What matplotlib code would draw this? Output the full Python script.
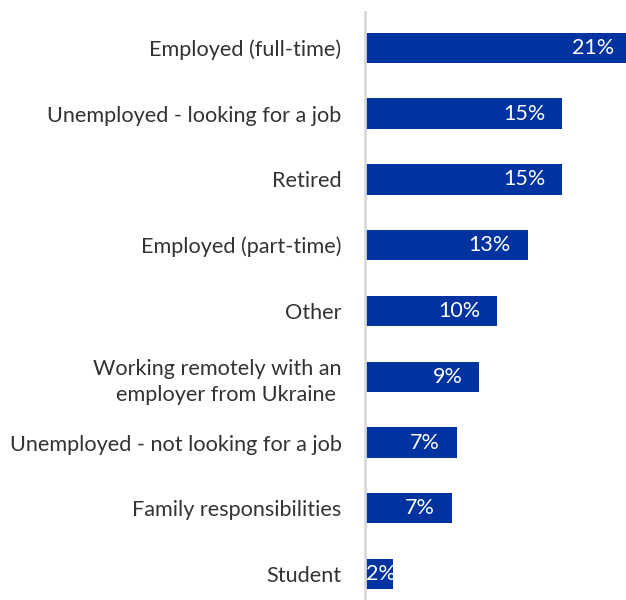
import matplotlib.pyplot as plt

# Data (top to bottom)
categories = [
    "Employed (full-time)",
    "Unemployed - looking for a job",
    "Retired",
    "Employed (part-time)",
    "Other",
    "Working remotely with an\nemployer from Ukraine ",
    "Unemployed - not looking for a job",
    "Family responsibilities",
    "Student",
]
values = [20.6, 15.0, 15.0, 12.4, 10.1, 8.7, 7.0, 6.6, 2.1]
value_labels = ["21%", "15%", "15%", "13%", "10%", "9%", "7%", "7%", "2%"]

bar_color = "#0033A0"
text_color = "#333333"
font = ["Lato", "DejaVu Sans"]

fig = plt.figure(figsize=(6.26, 6.0), dpi=100)
ax = fig.add_axes([365 / 626, 0, 1 - 365 / 626, 588 / 600])

y = list(range(len(categories)))
ax.barh(y, values, height=0.46, color=bar_color, zorder=2)

ax.set_xlim(0, 19.9)
ax.set_ylim(8.394, -0.545)

# value labels inside bar ends
for yi, v, lab in zip(y, values, value_labels):
    if v < 3:
        ax.annotate(lab, (0, yi), xytext=(0.5, 0), textcoords="offset points",
                    ha="left", va="center", color="white", fontsize=15.5,
                    family=font, zorder=3)
    else:
        ax.annotate(lab, (min(v, 20.3), yi), xytext=(-12, 0),
                    textcoords="offset points", ha="right", va="center",
                    color="white", fontsize=15.5, family=font,
                    zorder=3, annotation_clip=False)

# category labels
ax.set_yticks(y)
ax.set_yticklabels(categories, fontsize=15.6, color=text_color, family=font,
                   linespacing=1.4)
for t in ax.get_yticklabels():
    t.set_multialignment("right")
ax.tick_params(axis="y", length=0, pad=17)
ax.set_xticks([])

for side in ["top", "right", "bottom"]:
    ax.spines[side].set_visible(False)
ax.spines["left"].set_color("#d9d9d9")
ax.spines["left"].set_linewidth(2)

fig.savefig("out.png", dpi=100)
